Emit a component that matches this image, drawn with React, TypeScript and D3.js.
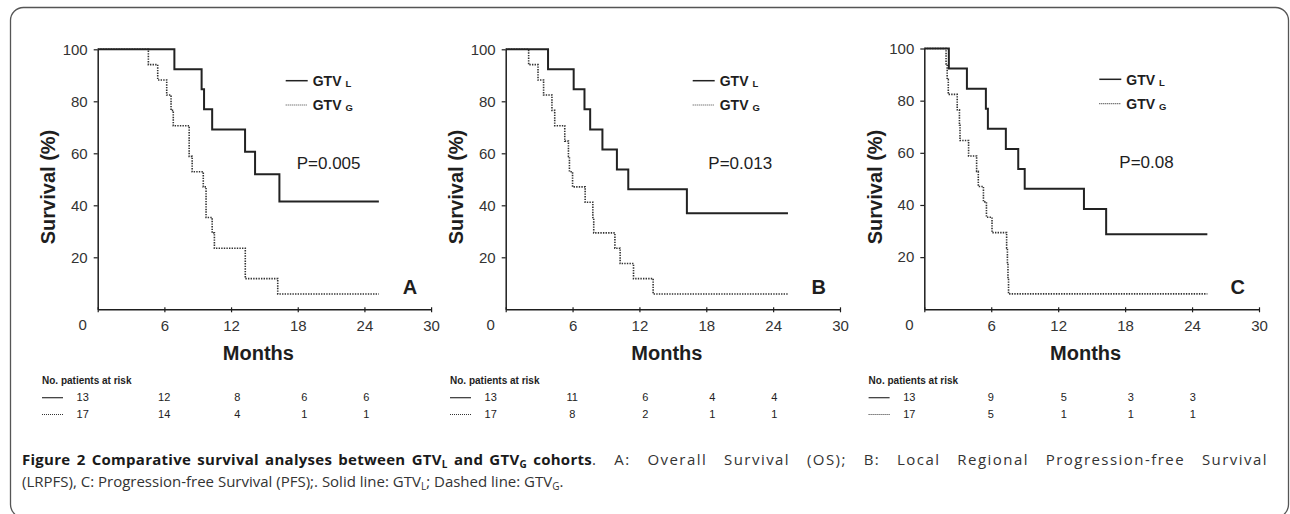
import React, { useEffect, useRef } from "react";
import * as d3 from "d3";

// axis ticks
const monthTicks = [0, 6, 12, 18, 24, 30];
const survivalTicks = [20, 40, 60, 80, 100];
const riskMonths = [0, 6, 12, 18, 24];

// A: overall survival
const osLocalMonths = [0, 6.9, 9.35, 9.57, 10.3, 13.26, 14.16, 16.35, 25.3];
const osLocalSurv = [100, 92.3, 84.6, 76.9, 69.2, 60.6, 51.9, 41.5, 41.5];
const osGlobalMonths = [0, 4.56, 5.4, 6.21, 6.6, 6.8, 8.23, 8.5, 9.5, 9.75, 10.3, 10.5, 13.28, 16.2, 25.3];
const osGlobalSurv = [100, 94.1, 88.2, 82.4, 76.5, 70.6, 58.8, 52.9, 47.1, 35.3, 29.4, 23.5, 11.8, 5.9, 5.9];

// B: local regional progression-free survival
const lrpfsLocalMonths = [0, 3.8, 6.1, 7.07, 7.58, 8.68, 9.98, 11.0, 16.26, 25.33];
const lrpfsLocalSurv = [100, 92.3, 84.6, 76.9, 69.2, 61.5, 53.8, 46.2, 36.9, 36.9];
const lrpfsGlobalMonths = [0, 2.06, 2.9, 3.4, 4.15, 4.4, 5.3, 5.63, 5.72, 6.0, 7.13, 7.82, 7.9, 9.8, 10.27, 11.47, 13.23, 25.33];
const lrpfsGlobalSurv = [100, 94.1, 88.2, 82.4, 76.5, 70.6, 64.7, 58.8, 52.9, 47.1, 41.2, 35.3, 29.4, 23.5, 17.6, 11.8, 5.9, 5.9];

// C: progression-free survival
const pfsLocalMonths = [0, 2.2, 3.82, 5.52, 5.7, 7.31, 8.42, 9.0, 14.31, 16.3, 25.37];
const pfsLocalSurv = [100, 92.3, 84.6, 76.9, 69.2, 61.5, 53.8, 46.2, 38.5, 28.8, 28.8];
const pfsGlobalMonths = [0, 1.95, 2.05, 2.15, 2.95, 3.15, 3.2, 3.97, 4.69, 4.84, 5.3, 5.57, 6.07, 7.38, 7.45, 7.5, 7.55, 25.37];
const pfsGlobalSurv = [100, 94.1, 88.2, 82.4, 76.5, 70.6, 64.7, 58.8, 52.9, 47.1, 41.2, 35.3, 29.4, 23.5, 17.6, 11.8, 5.9, 5.9];

// numbers at risk
const riskOsLocal = [13, 12, 8, 6, 6];
const riskOsGlobal = [17, 14, 4, 1, 1];
const riskLrpfsLocal = [13, 11, 6, 4, 4];
const riskLrpfsGlobal = [17, 8, 2, 1, 1];
const riskPfsLocal = [13, 9, 5, 3, 3];
const riskPfsGlobal = [17, 5, 1, 1, 1];

const pLabels = ["P=0.005", "P=0.013", "P=0.08"];
const panelLetters = ["A", "B", "C"];

const zip = (a: number[], b: number[]) => a.map((v, i) => [v, b[i]] as [number, number]);

const panels = [
  {
    local: zip(osLocalMonths, osLocalSurv),
    global: zip(osGlobalMonths, osGlobalSurv),
    riskL: riskOsLocal,
    riskG: riskOsGlobal,
    p: pLabels[0],
    letter: panelLetters[0],
    x0: 97.7, w: 333.4, top: 49.3,
    legendX: 188, legendY: 80.7, pX: 199, pY: 169,
  },
  {
    local: zip(lrpfsLocalMonths, lrpfsLocalSurv),
    global: zip(lrpfsGlobalMonths, lrpfsGlobalSurv),
    riskL: riskLrpfsLocal,
    riskG: riskLrpfsGlobal,
    p: pLabels[1],
    letter: panelLetters[1],
    x0: 505.7, w: 334.3, top: 49.3,
    legendX: 187, legendY: 80.7, pX: 202.6, pY: 169.3,
  },
  {
    local: zip(pfsLocalMonths, pfsLocalSurv),
    global: zip(pfsGlobalMonths, pfsGlobalSurv),
    riskL: riskPfsLocal,
    riskG: riskPfsGlobal,
    p: pLabels[2],
    letter: panelLetters[2],
    x0: 924.3, w: 334.7, top: 48.5,
    legendX: 175, legendY: 79.3, pX: 195, pY: 168.3,
  },
];

const riskColumnOffsets = [-15, 66.5, 139.5, 206.5, 268.5];
const font = "'Liberation Sans', Arial, sans-serif";
const ink = "#1e1e1e";
const dots = "1.4,1.2";

const App = () => {
  const ref = useRef<SVGSVGElement>(null);

  useEffect(() => {
    const svg = d3.select(ref.current);
    svg.selectAll("*").remove();

    // frame
    svg
      .append("rect")
      .attr("x", 10.5)
      .attr("y", 7.5)
      .attr("width", 1278)
      .attr("height", 510)
      .attr("rx", 13)
      .attr("fill", "none")
      .attr("stroke", "#555")
      .attr("stroke-width", 1.3);

    const baseY = 309.3;

    panels.forEach((p) => {
      const x = d3.scaleLinear().domain([0, 30]).range([p.x0, p.x0 + p.w]);
      const y = d3.scaleLinear().domain([0, 100]).range([baseY, p.top]);
      const g = svg.append("g").attr("font-family", font).attr("fill", ink);

      // y axis
      const yAxis = g
        .append("g")
        .attr("transform", `translate(${x(0)},0)`)
        .call(d3.axisLeft(y).tickValues(survivalTicks).tickSize(4).tickSizeOuter(0).tickPadding(6));
      yAxis.select(".domain").attr("stroke", ink).attr("stroke-width", 1.5);
      yAxis.selectAll(".tick line").attr("stroke", ink).attr("stroke-width", 1.2);
      yAxis
        .selectAll(".tick text")
        .attr("font-size", 15)
        .attr("font-family", font)
        .attr("fill", "#333");

      // x axis
      const xAxis = g
        .append("g")
        .attr("transform", `translate(0,${baseY})`)
        .call(
          d3
            .axisBottom(x)
            .tickValues(monthTicks)
            .tickSize(3)
            .tickSizeOuter(0)
            .tickPadding(8)
            .tickFormat((d) => (+d === 0 ? "" : String(d)))
        );
      xAxis.select(".domain").attr("stroke", ink).attr("stroke-width", 1.5);
      xAxis.selectAll(".tick line").attr("stroke", ink).attr("stroke-width", 1.2).attr("y1", -2);
      xAxis
        .selectAll(".tick text")
        .attr("font-size", 15)
        .attr("font-family", font)
        .attr("fill", "#333");
      g.append("text")
        .attr("x", x(0) - 15)
        .attr("y", baseY + 20.5)
        .attr("text-anchor", "middle")
        .attr("font-size", 15)
        .attr("fill", "#333")
        .text(monthTicks[0]);

      // axis titles
      g.append("text")
        .attr("transform", `translate(${x(0) - 49.3},187) rotate(-90)`)
        .attr("dy", "0.35em")
        .attr("text-anchor", "middle")
        .attr("font-size", 20)
        .attr("font-weight", "bold")
        .text("Survival (%)");
      g.append("text")
        .attr("x", (x(0) + x(30)) / 2 - 6)
        .attr("y", 359.5)
        .attr("text-anchor", "middle")
        .attr("font-size", 20)
        .attr("font-weight", "bold")
        .text("Months");

      // curves
      const step = d3
        .line<[number, number]>()
        .x((d) => x(d[0]))
        .y((d) => y(d[1]))
        .curve(d3.curveStepAfter);
      g.append("path")
        .attr("d", step(p.global))
        .attr("fill", "none")
        .attr("stroke", "#333")
        .attr("stroke-width", 1.6)
        .attr("stroke-dasharray", dots);
      g.append("path")
        .attr("d", step(p.local))
        .attr("fill", "none")
        .attr("stroke", "#222")
        .attr("stroke-width", 2);

      // legend
      const lx = x(0) + p.legendX;
      [0, 1].forEach((i) => {
        const ly = p.legendY + i * 24.3;
        g.append("line")
          .attr("x1", lx)
          .attr("x2", lx + 22)
          .attr("y1", ly)
          .attr("y2", ly)
          .attr("stroke", i === 0 ? "#222" : "#444")
          .attr("stroke-width", i === 0 ? 1.5 : 1.2)
          .attr("stroke-dasharray", i === 0 ? null : "1,1");
        const t = g
          .append("text")
          .attr("x", lx + 27)
          .attr("y", ly + 5.3)
          .attr("font-size", 14)
          .attr("font-weight", "bold");
        t.append("tspan").text("GTV");
        t.append("tspan")
          .attr("dx", 4)
          .attr("dy", 1)
          .attr("font-size", 9.5)
          .text(i === 0 ? "L" : "G");
      });

      // p value and panel letter
      g.append("text")
        .attr("x", x(0) + p.pX)
        .attr("y", p.pY)
        .attr("font-size", 17)
        .text(p.p);
      g.append("text")
        .attr("x", x(28.1))
        .attr("y", 293.5)
        .attr("text-anchor", "middle")
        .attr("font-size", 20)
        .attr("font-weight", "bold")
        .text(p.letter);

      // numbers at risk
      const tx = x(0) - 55.7;
      g.append("text")
        .attr("x", tx)
        .attr("y", 383.5)
        .attr("font-size", 10)
        .attr("font-weight", "bold")
        .text("No. patients at risk");
      [p.riskL, p.riskG].forEach((row, i) => {
        const ry = 397.7 + i * 16.8;
        g.append("line")
          .attr("x1", tx)
          .attr("x2", tx + 21)
          .attr("y1", ry)
          .attr("y2", ry)
          .attr("stroke", "#333")
          .attr("stroke-width", i === 0 ? 1.2 : 1)
          .attr("stroke-dasharray", i === 0 ? null : "1,1");
        g.selectAll(null)
          .data(row)
          .enter()
          .append("text")
          .attr("x", (_, j) => x(0) + riskColumnOffsets[j])
          .attr("y", ry + 3.6)
          .attr("text-anchor", "middle")
          .attr("font-size", 11)
          .attr("fill", "#222")
          .attr("data-month", (_, j) => riskMonths[j])
          .text((d) => d);
      });
    });

    // caption
    const cap = svg
      .append("g")
      .attr("font-family", "'Open Sans', 'Noto Sans', sans-serif")
      .attr("font-size", 15);
    const sub = (parent: any, s: string, bolder: boolean) =>
      parent
        .append("tspan")
        .attr("font-weight", bolder ? "bold" : "normal")
        .attr("font-size", 10)
        .attr("baseline-shift", "-25%")
        .text(s);

    // spread a text element over a given width with letter + word spacing
    const spread = (sel: any, target: number, wordShare: number) => {
      const node = sel.node() as SVGTextElement;
      const natural = node.getComputedTextLength();
      const txt = node.textContent || "";
      const spaces = txt.split(" ").length - 1;
      const extra = target - natural;
      const ws = spaces ? (extra * wordShare) / spaces : 0;
      const ls = (extra * (1 - wordShare)) / txt.length;
      sel.attr("word-spacing", ws).attr("letter-spacing", ls);
    };

    const head = cap.append("text").attr("x", 22).attr("y", 465).attr("fill", "#1a1a1a").attr("font-weight", "bold");
    head.append("tspan").text("Figure 2 Comparative survival analyses between GTV");
    sub(head, "L", true);
    head.append("tspan").text(" and GTV");
    sub(head, "G", true);
    head.append("tspan").text(" cohorts");
    spread(head, 570, 0.5);

    const rest = cap
      .append("text")
      .attr("x", 592)
      .attr("y", 465)
      .attr("fill", "#333")
      .text(". A: Overall Survival (OS); B: Local Regional Progression-free Survival");
    spread(rest, 676, 0.5);

    const line2 = cap.append("text").attr("x", 22).attr("y", 487).attr("fill", "#333");
    line2.append("tspan").text("(LRPFS), C: Progression-free Survival (PFS);. Solid line: GTV");
    sub(line2, "L", false);
    line2.append("tspan").text("; Dashed line: GTV");
    sub(line2, "G", false);
    line2.append("tspan").text(".");
  }, []);

  return (
    <svg
      ref={ref}
      width={1290}
      height={514}
      style={{ position: "absolute", left: 0, top: 0, background: "#fff" }}
    />
  );
};

export default App;
